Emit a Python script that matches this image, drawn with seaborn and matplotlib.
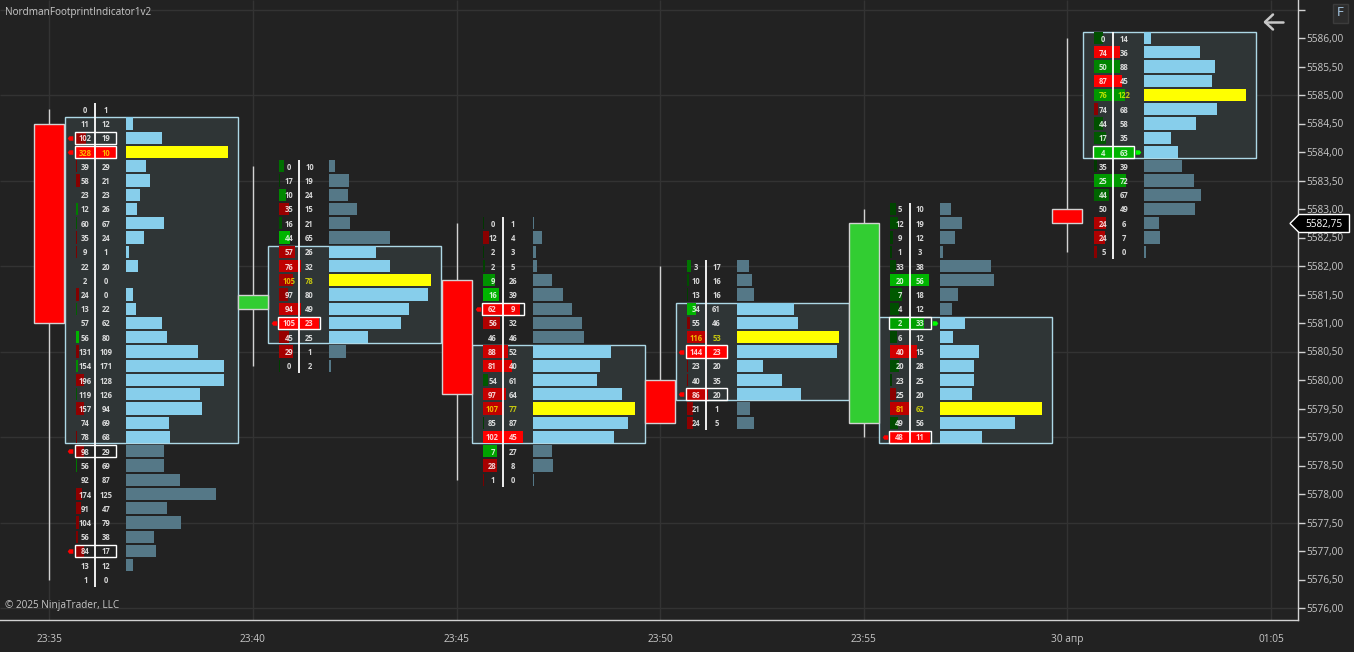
import numpy as np
import pandas as pd
import matplotlib
matplotlib.use("Agg")
import matplotlib.pyplot as plt
from matplotlib.patches import Rectangle, Polygon
from matplotlib.transforms import IdentityTransform
import seaborn as sns

# chart data, one footprint per 5 minute bar (rows go top to bottom)
time_labels = ["23:35", "23:40", "23:45", "23:50", "23:55", "30 апр", "01:05"]

opens = [5584.5, 5581.25, 5581.75, 5580.0, 5579.25, 5583.0]
closes = [5581.0, 5581.5, 5579.75, 5579.25, 5582.75, 5582.75]
highs = [5584.75, 5583.75, 5582.75, 5582.0, 5583.0, 5586.0]
lows = [5576.5, 5580.25, 5578.25, 5579.25, 5579.0, 5582.25]

bids_0 = [0, 11, 102, 328, 39, 58, 23, 12, 60, 35, 9, 22, 2, 24, 13, 57, 56, 131, 154, 196, 119, 157, 74, 78,
          98, 56, 92, 174, 91, 104, 56, 84, 13, 1]
asks_0 = [1, 12, 19, 10, 29, 21, 23, 26, 67, 24, 1, 20, 0, 0, 22, 62, 80, 109, 171, 128, 126, 94, 69, 68,
          29, 69, 87, 125, 47, 79, 38, 17, 12, 0]
bids_1 = [0, 17, 10, 35, 16, 44, 57, 76, 105, 97, 94, 105, 45, 29, 0]
asks_1 = [10, 19, 24, 15, 21, 65, 26, 32, 78, 80, 49, 23, 25, 1, 2]
bids_2 = [0, 12, 2, 2, 9, 16, 62, 56, 46, 88, 81, 54, 97, 107, 85, 102, 7, 28, 1]
asks_2 = [1, 4, 3, 5, 26, 39, 9, 32, 46, 52, 40, 61, 64, 77, 87, 45, 27, 8, 0]
bids_3 = [3, 10, 13, 34, 55, 116, 144, 23, 40, 86, 21, 24]
asks_3 = [17, 16, 16, 61, 46, 53, 23, 20, 35, 20, 1, 5]
bids_4 = [5, 12, 9, 1, 33, 20, 7, 4, 2, 6, 40, 20, 23, 25, 81, 49, 48]
asks_4 = [10, 19, 12, 3, 38, 56, 18, 12, 33, 12, 15, 28, 25, 20, 62, 56, 11]
bids_5 = [0, 74, 50, 87, 76, 74, 44, 17, 4, 35, 25, 44, 50, 24, 24, 5]
asks_5 = [14, 36, 88, 45, 122, 68, 58, 35, 63, 39, 72, 67, 49, 6, 7, 0]

all_bids = [bids_0, bids_1, bids_2, bids_3, bids_4, bids_5]
all_asks = [asks_0, asks_1, asks_2, asks_3, asks_4, asks_5]

# value area rows (first, last), POC row, imbalance rows
va_rows = [(1, 23), (6, 12), (9, 15), (3, 9), (8, 16), (0, 8)]
poc_rows = [3, 8, 13, 5, 14, 4]
boxed_rows = [[2, 3, 24, 31], [11], [6], [6, 9], [8, 16], [8]]

y_ticks = np.arange(5576, 5587, 0.5)
y_grid = np.arange(5576, 5587, 1.5)

# layout, in pixels of the 1354x652 screenshot
W, H = 1354, 652
PLOT_R, PLOT_B = 1298, 619.5
BAR_PX = 203.6
X0_PX = 49.3
PX = 1 / BAR_PX
ROW_H = 12.2 / 57

BG = "#222222"
AXIS = "#d2d2d2"
GRID = "#333333"
BOX_FILL = "#2f3536"
BOX_EDGE = "#add8e6"
VOL_IN = "#87ceeb"
VOL_OUT = "#557887"
POC = "#ffff00"

# small flag markers beside the imbalance rows
FLAG_LEFT = [(1, -0.8), (-0.4, -0.8), (-1, 0), (-0.4, 0.8), (1, 0.8)]
FLAG_RIGHT = [(-1, -0.8), (0.4, -0.8), (1, 0), (0.4, 0.8), (-1, 0.8)]

sns.set_theme(style="dark", rc={"axes.facecolor": BG, "figure.facecolor": BG})
plt.rcParams["font.family"] = ["Open Sans", "DejaVu Sans"]

fig = plt.figure(figsize=(W / 100, H / 100), dpi=100)
ax = fig.add_axes([0, 1 - PLOT_B / H, PLOT_R / W, PLOT_B / H])


def delta_color(d, red_max, green_max):
    if d > 0:
        return "#%02x0000" % int(120 + 135 * d / red_max)
    if d < 0:
        return "#00%02x00" % int(50 + 130 * -d / green_max)
    return BG


for i in range(6):
    cx = i
    frame = pd.DataFrame({"bid": all_bids[i], "ask": all_asks[i]})
    frame["row"] = range(len(frame))
    frame["price"] = highs[i] - 0.25 * frame["row"]
    frame["total"] = frame["bid"] + frame["ask"]
    frame["delta"] = frame["bid"] - frame["ask"]
    first, last = va_rows[i]

    # value area box
    top = frame["price"][first] + ROW_H / 2
    bottom = frame["price"][last] - ROW_H / 2
    ax.add_patch(Rectangle((cx + 15.5 * PX, bottom), 173 * PX, top - bottom, facecolor=BOX_FILL,
                           edgecolor=BOX_EDGE, linewidth=1, zorder=1))

    # volume profile
    frame["vol_width"] = frame["total"] / frame["total"].max() * 102 * PX
    frame["vol_color"] = VOL_OUT
    frame.loc[first:last, "vol_color"] = VOL_IN
    frame.loc[poc_rows[i], "vol_color"] = POC
    sns.barplot(data=frame, x="vol_width", y="price", hue="vol_color", orient="y", native_scale=True,
                palette={c: c for c in frame["vol_color"].unique()}, saturation=1, dodge=False,
                width=ROW_H / 0.25, left=cx + 76.5 * PX, linewidth=0, legend=False, errorbar=None,
                ax=ax, zorder=2)

    # delta bars in the bid/ask columns
    red_max = max(frame["delta"].max(), 1)
    green_max = max(-frame["delta"].min(), 1)
    frame["delta_width"] = frame["delta"].abs() / frame["delta"].abs().max() * 40 * PX
    frame["delta_color"] = [delta_color(d, red_max, green_max) for d in frame["delta"]]
    sns.barplot(data=frame, x="delta_width", y="price", hue="delta_color", orient="y", native_scale=True,
                palette={c: c for c in frame["delta_color"].unique()}, saturation=1, dodge=False,
                width=ROW_H / 0.25, left=cx + 26.5 * PX, linewidth=0, legend=False, errorbar=None,
                ax=ax, zorder=3)

    # center line
    ax.plot([cx + 46 * PX] * 2, [frame["price"].iloc[0] + 0.11, frame["price"].iloc[-1] - 0.125],
            color="white", lw=1.3, zorder=4, solid_capstyle="butt")

    # numbers
    for row in frame.itertuples():
        is_poc = row.row == poc_rows[i]
        txt_color = (1, 1, 0, 0.72) if is_poc else (1, 1, 1, 0.82)
        ax.text(cx + 36 * PX, row.price, str(row.bid), color=txt_color, ha="center", va="center_baseline",
                fontsize=5.5, fontweight="bold", zorder=6)
        ax.text(cx + 56.5 * PX, row.price, str(row.ask), color=txt_color, ha="center", va="center_baseline",
                fontsize=5.5, fontweight="bold", zorder=6)

    # imbalance boxes and markers
    for r in boxed_rows[i]:
        price = frame["price"][r]
        ax.add_patch(Rectangle((cx + 25.5 * PX, price - ROW_H / 2), 41.5 * PX, ROW_H, facecolor="none",
                               edgecolor="white", linewidth=1, zorder=5))
        if frame["delta"][r] > 0:
            ax.plot(cx + 21 * PX, price, marker=FLAG_LEFT, ms=4, color="#ff0000", mew=0, zorder=5)
        else:
            ax.plot(cx + 71 * PX, price, marker=FLAG_RIGHT, ms=4, color="#00ff00", mew=0, zorder=5)

# candles
bar_x = np.arange(6)
body_bottom = np.minimum(opens, closes)
body_height = np.abs(np.subtract(opens, closes))
candle_colors = ["#ff0000" if c < o else "#32cd32" for o, c in zip(opens, closes)]
ax.vlines(bar_x, lows, highs, color=AXIS, lw=1, zorder=2)
ax.bar(bar_x, body_height, bottom=body_bottom, width=30 * PX, color=candle_colors, edgecolor=AXIS, linewidth=1,
       zorder=3)

# axes
ax.set_xlim(-X0_PX * PX, (PLOT_R - X0_PX) * PX)
ax.set_ylim(5586 - (PLOT_B - 38) / 57, 5586 + 38 / 57)
ax.set_xlabel("")
ax.set_ylabel("")
ax.set_xticks(range(7))
ax.set_xticklabels(time_labels)
ax.set_yticks(y_ticks)
ax.set_yticklabels([f"{v:.2f}".replace(".", ",") if v < 5586.25 else "" for v in y_ticks])
ax.yaxis.tick_right()
ax.tick_params(axis="both", colors="#c8c8c8", labelsize=7.3, length=5, width=1, color=AXIS)
ax.tick_params(axis="y", pad=1)
ax.tick_params(axis="x", pad=5.5)
ax.grid(False)
ax.set_axisbelow(True)
ax.hlines(y_grid, *ax.get_xlim(), color=GRID, lw=1, zorder=0.5)
ax.vlines(range(7), *ax.get_ylim(), color=GRID, lw=1, zorder=0.5)
for side in ["top", "left"]:
    ax.spines[side].set_visible(False)
for side in ["right", "bottom"]:
    ax.spines[side].set_visible(True)
    ax.spines[side].set_color(AXIS)
    ax.spines[side].set_linewidth(1)


# screen furniture, placed in screenshot pixels
def sy(y):
    return H - y


px_tr = IdentityTransform()
fig.text(5 / W, 1 - 12.5 / H, "NordmanFootprintIndicator1v2", color="#c8c8c8", fontsize=7.2, ha="left", va="center")
fig.text(5 / W, 1 - 605.5 / H, "© 2025 NinjaTrader, LLC", color="#c8c8c8", fontsize=7.2, ha="left", va="center")

# back arrow
fig.add_artist(plt.Line2D([1265, 1283], [sy(22), sy(22)], color="#c8c8c8", lw=1.8, transform=px_tr))
fig.add_artist(plt.Line2D([1273, 1265, 1273], [sy(14.5), sy(22), sy(29.5)], color="#c8c8c8", lw=1.8, transform=px_tr))

# F button
fig.add_artist(Rectangle((1333, sy(23)), 15, 19, facecolor="#2c2c2c", edgecolor="#3c3c3c", lw=1, transform=px_tr))
fig.text(1340.5 / W, 1 - 13 / H, "F", color="#a9cbe8", fontsize=9.5, ha="center", va="center")

# last price tag
tag = [(1290, 223.5), (1299, 214.5), (1349.5, 214.5), (1349.5, 232.5), (1299, 232.5)]
fig.add_artist(Polygon([(x, sy(y)) for x, y in tag], closed=True, facecolor="black", edgecolor="white", lw=1,
                       transform=px_tr))
fig.text(1324 / W, 1 - 224 / H, "5582,75", color="white", fontsize=7.3, ha="center", va="center")

fig.savefig("out.png", dpi=100, facecolor=BG)
